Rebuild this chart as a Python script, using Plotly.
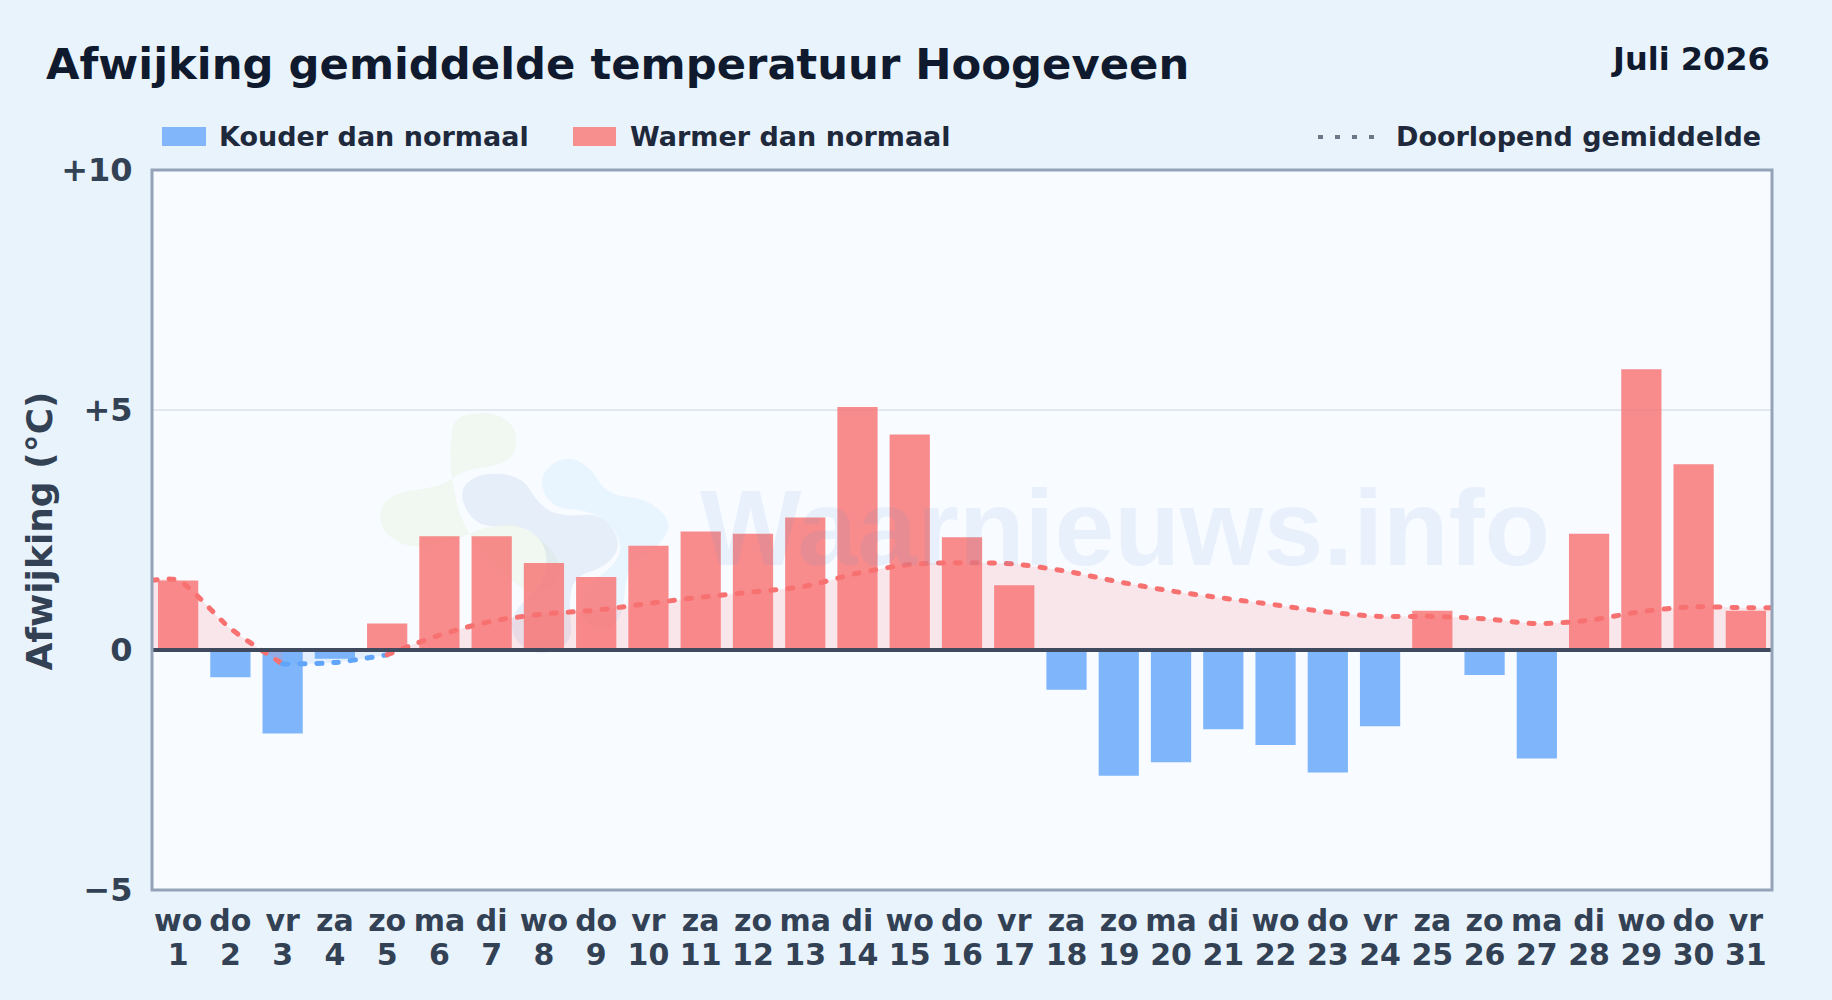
import plotly.graph_objects as go

days = list(range(1, 32))
weekdays = ["wo","do","vr","za","zo","ma","di","wo","do","vr","za","zo","ma","di","wo","do","vr","za","zo","ma","di","wo","do","vr","za","zo","ma","di","wo","do","vr"]
deviation = [1.45,-0.57,-1.74,-0.18,0.55,2.37,2.37,1.81,1.52,2.17,2.47,2.42,2.76,5.06,4.49,2.35,1.35,-0.83,-2.62,-2.34,-1.65,-1.98,-2.55,-1.59,0.82,-0.52,-2.26,2.42,5.85,3.87,0.82]
running_mean = [1.45,0.45,-0.29,-0.26,-0.10,0.31,0.60,0.75,0.83,0.97,1.10,1.21,1.33,1.60,1.78,1.82,1.79,1.64,1.42,1.23,1.08,0.94,0.79,0.70,0.70,0.65,0.55,0.62,0.80,0.90,0.88]
y_ticks = [-5, 0, 5, 10]
y_labels = ["−5", "0", "+5", "+10"]

RED_BAR = "rgba(248,113,113,0.8)"
BLUE_BAR = "rgba(96,165,250,0.8)"
RED_LINE = "#f87171"
BLUE_LINE = "#60a5fa"
RED_FILL = "rgba(248,113,113,0.15)"
BLUE_FILL = "rgba(96,165,250,0.13)"
FONT = "DejaVu Sans"
W, H = 1832, 1000
L, R, T, B = 152, 1772, 170, 890
LINE_DASH = "5px,12px"

fig = go.Figure()
fig.add_bar(x=days, y=[v if v < 0 else None for v in deviation], width=0.77,
            marker=dict(color=BLUE_BAR, line_width=0), name="Kouder dan normaal")
fig.add_bar(x=days, y=[v if v >= 0 else None for v in deviation], width=0.77,
            marker=dict(color=RED_BAR, line_width=0), name="Warmer dan normaal")

segments = [
    ([0.5] + days[:3], running_mean[:1] + running_mean[:3], RED_LINE, RED_FILL),
    (days[2:5], running_mean[2:5], BLUE_LINE, BLUE_FILL),
    (days[4:] + [31.5], running_mean[4:] + running_mean[-1:], RED_LINE, RED_FILL),
]
for xs, ys, col, fill in segments:
    fig.add_scatter(x=xs, y=ys, mode="lines", fill="tozeroy", fillcolor=fill,
                    line=dict(color=col, width=5, dash=LINE_DASH, shape="spline", smoothing=0.8),
                    name="Doorlopend gemiddelde", hoverinfo="skip")

# Invisible carrier so the day numbers can sit on their own axis row below the weekdays.
fig.add_scatter(x=days, y=[None] * len(days), xaxis="x2", mode="lines", showlegend=False, hoverinfo="skip")


def px(x):
    return (x - L) / (R - L)


def py(y):
    return (B - y) / (B - T)


def blob(points, color):
    """Smooth closed outline for the background logo; points are zoom-crop pixels."""
    pts = [(350 + a / 2.24, 380 + b / 3) for a, b in points]
    n = len(pts)
    mid = lambda p, q: ((p[0] + q[0]) / 2, (p[1] + q[1]) / 2)
    start = mid(pts[-1], pts[0])
    d = f"M {px(start[0]):.4f},{py(start[1]):.4f}"
    for i in range(n):
        c = pts[i]
        e = mid(pts[i], pts[(i + 1) % n])
        d += f" Q {px(c[0]):.4f},{py(c[1]):.4f} {px(e[0]):.4f},{py(e[1]):.4f}"
    return dict(type="path", path=d + " Z", xref="paper", yref="paper", layer="below",
                fillcolor=color, line_width=0)


green = [(225,150),(245,105),(325,95),(378,150),(365,250),(250,270),(210,320),(80,340),(60,440),(130,510),(240,480),(300,440),(380,430),(450,500),(480,580),(440,640),(390,640),(260,470),(225,300)]
dark = [(240,340),(285,278),(385,285),(425,380),(480,410),(565,400),(610,490),(575,560),(500,590),(490,680),(500,790),(420,830),(365,780),(360,700),(440,600),(440,490),(380,430),(285,445)]
light = [(420,290),(480,225),(538,260),(575,345),(665,355),(725,430),(685,510),(620,545),(610,740),(530,750),(505,640),(610,540),(600,450),(540,390),(450,385)]

shapes = [
    blob(green, "rgba(195,225,150,0.13)"),
    blob(dark, "rgba(130,170,215,0.15)"),
    blob(light, "rgba(120,200,250,0.13)"),
    dict(type="line", xref="paper", yref="y", x0=0, x1=1, y0=0, y1=0, layer="above",
         line=dict(color="#3f4a5e", width=4)),
    dict(type="rect", xref="paper", yref="paper", x0=0, x1=1, y0=0, y1=1, layer="above",
         line=dict(color="#94a3b8", width=3), fillcolor="rgba(0,0,0,0)"),
    dict(type="rect", xref="paper", yref="paper", x0=px(162), x1=px(206), y0=py(127), y1=py(146),
         fillcolor="#82b6fa", line_width=0),
    dict(type="rect", xref="paper", yref="paper", x0=px(573), x1=px(616), y0=py(127), y1=py(146),
         fillcolor="#f78f8f", line_width=0),
    dict(type="line", xref="paper", yref="paper", x0=px(1318), x1=px(1375), y0=py(137), y1=py(137),
         line=dict(color="#6b7888", width=4, dash="5px,12px")),
]


def text(x, y, s, size, color, anchor="left", family=FONT, angle=0):
    return dict(xref="paper", yref="paper", x=px(x), y=py(y), text=s, showarrow=False,
                xanchor=anchor, yanchor="middle", textangle=angle,
                font=dict(family=family, size=size, color=color))


annotations = [
    text(44, 64, "<b>Afwijking gemiddelde temperatuur Hoogeveen</b>", 43.3, "#0f1a2e"),
    text(1772, 59, "<b>Juli 2026</b>", 32, "#0f1a2e", "right"),
    text(217, 137, "<b>Kouder dan normaal</b>", 27, "#1e293b"),
    text(628, 137, "<b>Warmer dan normaal</b>", 27, "#1e293b"),
    text(1763, 137, "<b>Doorlopend gemiddelde</b>", 27, "#1e293b", "right"),
    text(1125, 528, "<b>Waarnieuws.info</b>", 107.5, "rgba(96,150,220,0.1)", "center", "Liberation Sans"),
    text(38.5, 531, "<b>Afwijking (°C)</b>", 36, "#334155", "center", FONT, -90),
]

tick_common = dict(range=[0.5, 31.5], tickmode="array", tickvals=days,
                   tickfont=dict(family=FONT, size=30, color="#334155"),
                   ticks="outside", tickcolor="rgba(0,0,0,0)", tickangle=0,
                   showgrid=False, zeroline=False, showline=False)

fig.update_layout(
    width=W, height=H,
    margin=dict(l=L, r=W - R, t=T, b=H - B, pad=0),
    paper_bgcolor="#e9f3fc",
    plot_bgcolor="#f8fbff",
    barmode="overlay",
    showlegend=False,
    shapes=shapes,
    annotations=annotations,
    font=dict(family=FONT, color="#334155"),
    xaxis=dict(ticktext=[f"<b>{w}</b>" for w in weekdays], ticklen=4, **tick_common),
    xaxis2=dict(ticktext=[f"<b>{d}</b>" for d in days], ticklen=38, overlaying="x", side="bottom",
                anchor="y", **tick_common),
    yaxis=dict(
        range=[-5, 10], tickmode="array", tickvals=y_ticks,
        ticktext=[f"<b>{t}</b>" for t in y_labels],
        tickfont=dict(family=FONT, size=32, color="#334155"),
        ticks="outside", ticklen=12, tickcolor="rgba(0,0,0,0)",
        showgrid=True, gridcolor="#e2e8f0", gridwidth=2, zeroline=False, showline=False,
    ),
)

fig.write_html(
    "out.html",
    config={"displayModeBar": False},
    post_script=(
        "document.body.style.margin='0';"
        "document.documentElement.style.background='#e9f3fc';"
        "document.querySelectorAll('.scatterlayer .js-line').forEach(function(p){p.style.strokeLinecap='round';});"
    ),
)
